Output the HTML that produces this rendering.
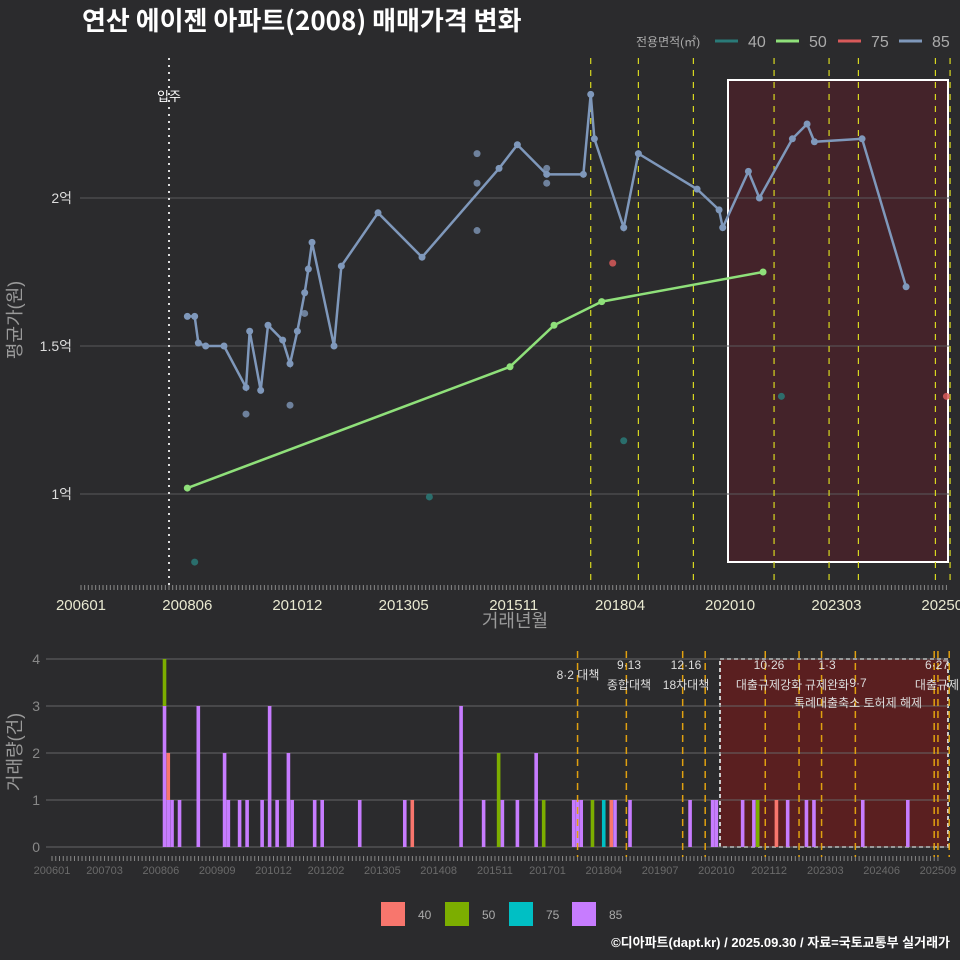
<!DOCTYPE html>
<html><head><meta charset="utf-8">
<style>
html,body{margin:0;padding:0;background:#2b2b2d;}
svg{display:block;font-family:"Liberation Sans","Noto Sans CJK KR",sans-serif;}
</style></head>
<body>
<svg id="c" width="960" height="960" viewBox="0 0 960 960">
<rect width="960" height="960" fill="#2b2b2d"/>
<text x="82" y="30" fill="#ffffff" font-size="26" font-weight="bold" font-family="'Noto Sans CJK KR',sans-serif">연산 에이젠 아파트(2008) 매매가격 변화</text>
<g id="topg"></g>
<g id="botg"></g>
</svg>
<script>
// ---------- data ----------
const lineMonths85 = ["200806","200808","200809","200811","200904","200910","200911","201002","201004","201008","201010","201012","201102","201103","201104","201110","201112","201210","201310","201507","201512","201608","201706","201708","201709","201805","201809","202001","202007","202008","202103","202106","202203","202207","202209","202310","202410"];
const lineValues85 = [1.60,1.60,1.51,1.50,1.50,1.36,1.55,1.35,1.57,1.52,1.44,1.55,1.68,1.76,1.85,1.50,1.77,1.95,1.80,2.10,2.18,2.08,2.08,2.35,2.20,1.90,2.15,2.03,1.96,1.90,2.09,2.00,2.20,2.25,2.19,2.20,1.70];
const dotMonths85 = ["200910","201010","201102","201501","201501","201501","201608","201608"];
const dotValues85 = [1.27,1.30,1.61,2.15,2.05,1.89,2.10,2.05];
const lineMonths50 = ["200806","201510","201610","201711","202107"];
const lineValues50 = [1.02,1.43,1.57,1.65,1.75];
const dotMonths40 = ["200808","201312","201805","202112"];
const dotValues40 = [0.77,0.99,1.18,1.33];
const dotMonths75 = ["201802","202509"];
const dotValues75 = [1.78,1.33];
const yTicksTop = [1,1.5,2];
const yTickLabelsTop = ["1억","1.5억","2억"];
const xTickLabelsTop = ["200601","200806","201012","201305","201511","201804","202010","202303","202509"];
const eventMonthsTop = ["201708","201809","201912","202110","202301","202309","202506","202510"];
const moveInMonth = "200801";

const barMonths = ["200807","200807","200808","200808","200809","200811","200904","200911","200912","201003","201005","201009","201011","201101","201104","201105","201111","201201","201211","201311","201401","201502","201508","201512","201601","201605","201610","201612","201708","201709","201710","201801","201804","201806","201807","201811","202003","202009","202010","202105","202108","202109","202202","202205","202210","202212","202401","202501"];
const barAreas = ["85","50","85","40","85","85","85","85","85","85","85","85","85","85","85","85","85","85","85","85","40","85","85","50","85","85","85","50","85","85","85","50","75","40","85","85","85","85","85","85","85","50","40","85","85","85","85","85"];
const barCounts = [3,1,1,1,1,1,3,2,1,1,1,1,3,1,2,1,1,1,1,1,1,3,1,2,1,1,2,1,1,1,1,1,1,1,1,1,1,1,1,1,1,1,1,1,1,1,1,1];
const yTicksBot = [0,1,2,3,4];
const xTickLabelsBot = ["200601","200703","200806","200909","201012","201202","201305","201408","201511","201701","201804","201907","202010","202112","202303","202406","202509"];
const eventMonthsBot = ["201709","201810","202001","202007","202111","202208","202302","202311","202508","202509","202512"];
const eventLabels = [["8·2 대책","",578,679],["9·13","종합대책",629,669],["12·16","18차대책",686,669],["10·26","대출규제강화",769,669],["1·3","규제완화",827,669],["9·7","특례대출축소 토허제 해제",858,687],["6·27","대출규제",937,669]];

// ---------- helpers ----------
const NS="http://www.w3.org/2000/svg";
function mk(parent,tag,attrs){const e=document.createElementNS(NS,tag);for(const k in attrs)e.setAttribute(k,attrs[k]);parent.appendChild(e);return e;}
function mIdx(s){return (parseInt(s.slice(0,4))-2006)*12+parseInt(s.slice(4,6))-1;}
const xT=s=>81+mIdx(s)*3.667;
const yT=v=>494-(v-1)*296;
const xB=s=>52+mIdx(s)*3.754;
const yB=v=>847-v*47;
const gTop=document.getElementById('topg');
const gBot=document.getElementById('botg');

// ---------- top chart ----------
let r=mk(gTop,'rect',{x:728,y:80,width:220,height:482,fill:'#44232a',stroke:'#ffffff','stroke-width':2});


yTicksTop.forEach((v,i)=>{
  const g=mk(gTop,'line',{x1:80,x2:950,y1:yT(v),y2:yT(v),stroke:'#5a5a5c','stroke-width':1});
  
  
  const t=mk(gTop,'text',{x:72,y:yT(v)+5,fill:'#dddddd','font-size':14,'text-anchor':'end'});t.textContent=yTickLabelsTop[i];
  
  
});
for(let m=0;m<=236;m+=1){mk(gTop,'line',{x1:81+m*3.667,x2:81+m*3.667,y1:585,y2:590,stroke:'#888','stroke-width':1});}
xTickLabelsTop.forEach(s=>{
  const t=mk(gTop,'text',{x:xT(s),y:610,fill:'#e8e8d0','font-size':15,'text-anchor':'middle'});t.textContent=s;
  
  
});
let mv=mk(gTop,'line',{x1:xT(moveInMonth),x2:xT(moveInMonth),y1:58,y2:586,stroke:'#dddddd','stroke-width':2,'stroke-dasharray':'2,5'});


let mvt=mk(gTop,'text',{x:xT(moveInMonth),y:101,fill:'#ffffff','font-size':13,'text-anchor':'middle'});mvt.textContent='입주';


eventMonthsTop.forEach(s=>{
  const l=mk(gTop,'line',{x1:xT(s),x2:xT(s),y1:58,y2:586,stroke:'#d8d820','stroke-width':1.2,'stroke-dasharray':'6,6'});
  
  
});
function line(ms,vs,col,name){
  const p=mk(gTop,'polyline',{points:ms.map((s,i)=>xT(s)+','+yT(vs[i])).join(' '),fill:'none',stroke:col,'stroke-width':2.5});
  
  
  ms.forEach((s,i)=>{const c=mk(gTop,'circle',{cx:xT(s),cy:yT(vs[i]),r:3.5,fill:col});
    
    });
}
function dots(ms,vs,col,name){ms.forEach((s,i)=>{const c=mk(gTop,'circle',{cx:xT(s),cy:yT(vs[i]),r:3.5,fill:col,opacity:0.85});
  
  });}
dots(dotMonths85,dotValues85,'#7a90b0','dot-85');
line(lineMonths85,lineValues85,'#7f98bb','line-85');
line(lineMonths50,lineValues50,'#8fe07a','line-50');
dots(dotMonths40,dotValues40,'#2a7a78','dot-40');
dots(dotMonths75,dotValues75,'#d85a5a','dot-75');
let xt=mk(gTop,'text',{x:515,y:627,fill:'#9a9a9a','font-size':18,'text-anchor':'middle'});xt.textContent='거래년월';


let yt=mk(gTop,'text',{x:0,y:0,fill:'#9a9a9a','font-size':18,'text-anchor':'middle',transform:'translate(21,320) rotate(-90)'});yt.textContent='평균가(원)';


let lt=mk(gTop,'text',{x:636,y:46,fill:'#aaaaaa','font-size':12});lt.textContent='전용면적(㎡)';


[['40','#2a7a78',715],['50','#8fe07a',776],['75','#d85a5a',838],['85','#7f98bb',899]].forEach(a=>{
  const g=mk(gTop,'g',{});
  
  
  mk(g,'line',{x1:a[2],x2:a[2]+23,y1:41,y2:41,stroke:a[1],'stroke-width':3});
  const t=mk(g,'text',{x:a[2]+33,y:47,fill:'#aaaaaa','font-size':16});t.textContent=a[0];
});

// ---------- bottom chart ----------
let r2=mk(gBot,'rect',{x:720,y:659,width:228,height:188,fill:'#5a1f20',stroke:'#cccccc','stroke-width':2,'stroke-dasharray':'4,3'});


yTicksBot.forEach(v=>{
  const g=mk(gBot,'line',{x1:46,x2:948,y1:yB(v),y2:yB(v),stroke:'#666','stroke-width':1});
  
  
  const t=mk(gBot,'text',{x:40,y:yB(v)+5,fill:'#888','font-size':14,'text-anchor':'end'});t.textContent=v;
  
  
});
for(let m=0;m<=236;m+=1){mk(gBot,'line',{x1:52+m*3.754,x2:52+m*3.754,y1:856,y2:861,stroke:'#888','stroke-width':1});}
xTickLabelsBot.forEach(s=>{
  const t=mk(gBot,'text',{x:xB(s),y:874,fill:'#6a6a6a','font-size':11,'text-anchor':'middle'});t.textContent=s;
  
  
});
const barCol={'40':'#f8766d','50':'#7cae00','75':'#00bfc4','85':'#c77cff'};
const stackBase={};
barMonths.forEach((s,i)=>{
  const b=stackBase[s]||0;
  const x=xB(s)-1.9;
  const rr=mk(gBot,'rect',{x:x,y:yB(b+barCounts[i]),width:3.6,height:barCounts[i]*47,fill:barCol[barAreas[i]]});
  
  
  stackBase[s]=b+barCounts[i];
});
eventMonthsBot.forEach(s=>{
  const l=mk(gBot,'line',{x1:xB(s),x2:xB(s),y1:651,y2:857,stroke:'#e0a010','stroke-width':1.5,'stroke-dasharray':'7,5'});
  
  
});
eventLabels.forEach(e=>{
  const t1=mk(gBot,'text',{x:e[2],y:e[3],fill:'#dddddd','font-size':12,'text-anchor':'middle'});t1.textContent=e[0];
  
  
  if(e[1]){const t2=mk(gBot,'text',{x:e[2],y:e[3]+20,fill:'#dddddd','font-size':12,'text-anchor':'middle'});t2.textContent=e[1];
  
  }
});
let yt2=mk(gBot,'text',{x:0,y:0,fill:'#9a9a9a','font-size':18,'text-anchor':'middle',transform:'translate(21,752) rotate(-90)'});yt2.textContent='거래량(건)';


[['40','#f8766d',381],['50','#7cae00',445],['75','#00bfc4',509],['85','#c77cff',572]].forEach(a=>{
  const g=mk(gBot,'g',{});
  
  
  mk(g,'rect',{x:a[2],y:902,width:24,height:24,fill:a[1]});
  const t=mk(g,'text',{x:a[2]+37,y:919,fill:'#aaaaaa','font-size':12});t.textContent=a[0];
});
let ft=mk(gBot,'text',{x:950,y:947,fill:'#ffffff','font-size':13,'font-weight':'bold','text-anchor':'end'});ft.textContent='©디아파트(dapt.kr) / 2025.09.30 / 자료=국토교통부 실거래가';


</script>
</body></html>
